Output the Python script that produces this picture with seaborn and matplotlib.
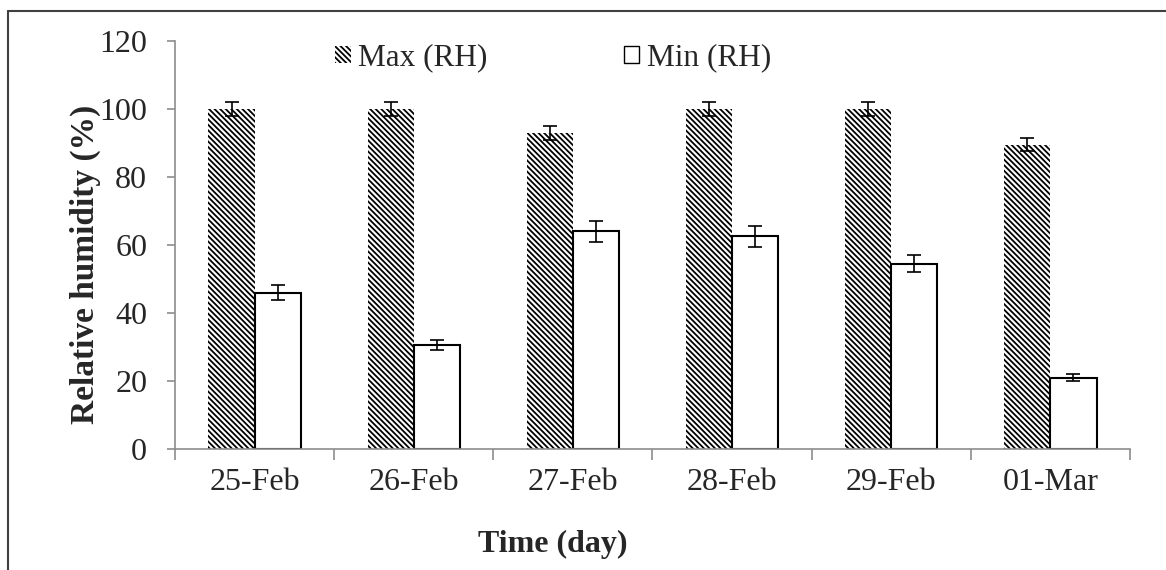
import matplotlib
matplotlib.use("Agg")
import matplotlib.pyplot as plt
import seaborn as sns
import pandas as pd
from matplotlib.patches import Patch
from matplotlib.lines import Line2D
from matplotlib.container import BarContainer

days = ["25-Feb", "26-Feb", "27-Feb", "28-Feb", "29-Feb", "01-Mar"]
max_rh = [100, 100, 93, 100, 100, 89.5]
min_rh = [46, 30.5, 64, 62.5, 54.5, 21]
max_err = [2, 2, 2, 2, 2, 2]
min_err = [2.3, 1.5, 3, 3, 2.5, 1]
series = ["Max (RH)", "Min (RH)"]
yticks = [0, 20, 40, 60, 80, 100, 120]

sns.set_style("white")
plt.rcParams["font.family"] = ["Liberation Serif", "DejaVu Serif"]
plt.rcParams["hatch.linewidth"] = 1.3

df = pd.DataFrame({
    "day": days * 2,
    "value": max_rh + min_rh,
    "series": [series[0]] * len(days) + [series[1]] * len(days),
})

fig = plt.figure(figsize=(11.66, 5.70), dpi=100)
ax = fig.add_axes([0.1501, 0.2123, 0.8190, 0.7158])

sns.barplot(data=df, x="day", y="value", hue="series", order=days,
            hue_order=series, palette=["white", "white"], width=0.58,
            gap=0, legend=False, ax=ax, saturation=1, errorbar=None)

errs = [max_err, min_err]
bar_conts = [c for c in ax.containers if isinstance(c, BarContainer)]
for k, cont in enumerate(bar_conts):
    for j, p in enumerate(cont.patches):
        if k == 0:
            p.set_hatch("\\\\\\\\\\\\")
            p.set_edgecolor("black")
            p.set_linewidth(0)
            p.set_facecolor("white")
        else:
            p.set_edgecolor("black")
            p.set_linewidth(1.5)
            p.set_facecolor("white")
        cx = p.get_x() + p.get_width() / 2
        ax.errorbar(cx, p.get_height(), yerr=errs[k][j], color="black",
                    lw=1.2, capsize=4.7, capthick=1.2, zorder=5)

ax.set_ylim(0, 120)
ax.set_yticks(yticks)
ax.set_xlim(-0.5, len(days) - 0.5)
ax.set_xticks([i - 0.5 for i in range(len(days) + 1)], minor=True)
ax.tick_params(axis="x", which="major", length=0, pad=14, labelsize=23)
ax.tick_params(axis="x", which="minor", length=8, width=1.2, color="#8c8c8c", direction="out", bottom=True)
ax.tick_params(axis="y", length=6, width=1.2, color="#8c8c8c", direction="out", pad=14, labelsize=23, left=True)
for s in ["top", "right"]:
    ax.spines[s].set_visible(False)
for s in ["left", "bottom"]:
    ax.spines[s].set_color("#8c8c8c")
    ax.spines[s].set_linewidth(1.2)

ax.set_xlabel("Time (day)", fontsize=23, fontweight="bold")
ax.xaxis.set_label_coords(0.396, -0.235)
ax.xaxis.label.set_verticalalignment("center")
ax.set_ylabel("Relative humidity (%)", fontsize=24, fontweight="bold")
ax.yaxis.set_label_coords(-0.0942, 0.453)
ax.yaxis.label.set_verticalalignment("center")

handles = [Patch(facecolor="white", edgecolor="black", hatch="\\\\\\\\\\\\", linewidth=0),
           Patch(facecolor="white", edgecolor="black", linewidth=1.0)]
ax.legend(handles, series, ncol=2, loc="center left", bbox_to_anchor=(0.1675, 0.958),
          frameon=False, fontsize=22.5, handlelength=0.5, handleheight=0.5,
          handletextpad=0.25, columnspacing=4.35, borderpad=0, borderaxespad=0)

fig.add_artist(Line2D([8 / 1166, 1.0], [1 - 11 / 570, 1 - 11 / 570],
                      transform=fig.transFigure, color="#404040", lw=1.5))
fig.add_artist(Line2D([8 / 1166, 8 / 1166], [0.0, 1 - 11 / 570],
                      transform=fig.transFigure, color="#404040", lw=1.5))

fig.savefig("out.png", dpi=100)
